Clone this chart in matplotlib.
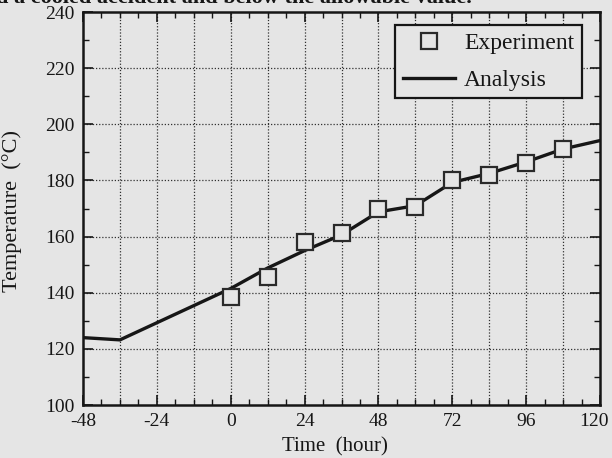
import matplotlib
matplotlib.use("Agg")
import matplotlib.pyplot as plt
import matplotlib.transforms as mtransforms
from matplotlib.ticker import MultipleLocator

# Data
exp_time = [0, 12, 24, 36, 48, 60, 72, 84, 96, 108]
exp_temp = [138.5, 145.5, 158.2, 161.4, 170.0, 170.6, 180.2, 182.0, 186.3, 191.2]

ana_time = [-48, -36, 0, 12, 24, 36, 48, 60, 72, 84, 96, 108, 120]
ana_temp = [124.0, 123.2, 141.5, 148.8, 155.0, 160.6, 168.8, 171.0, 179.3, 182.5, 186.6, 191.2, 194.2]

xticks = [-48, -24, 0, 24, 48, 72, 96, 120]
yticks = [100, 120, 140, 160, 180, 200, 220, 240]

bg = "#e5e5e5"
ink = "#161616"
plt.rcParams['font.family'] = ['Liberation Serif', 'DejaVu Serif']

fig = plt.figure(figsize=(6.12, 4.58), dpi=100, facecolor=bg)
ax = fig.add_axes([83/612, 53/458, 517/612, 393/458], facecolor=bg)

ax.plot(ana_time, ana_temp, color=ink, lw=2.4, label="Analysis", zorder=3)
ax.plot(exp_time, exp_temp, linestyle="none", marker="s", markersize=11,
        markerfacecolor=bg, markeredgecolor="#2a2a2a", markeredgewidth=1.6,
        label="Experiment", zorder=4)

ax.set_xlim(-48, 120)
ax.set_ylim(100, 240)
ax.set_xticks(xticks)
ax.set_xticklabels([str(t) for t in xticks])
ax.set_yticks(yticks)
ax.xaxis.set_minor_locator(MultipleLocator(6))
ax.yaxis.set_minor_locator(MultipleLocator(10))

# grid every 12 h and 20 degC
for gx in range(-36, 120, 12):
    ax.axvline(gx, color="#303030", lw=0.9, ls=(0, (1, 1.5)), zorder=1)
for gy in range(120, 240, 20):
    ax.axhline(gy, color="#303030", lw=0.9, ls=(0, (1, 1.5)), zorder=1)

ax.tick_params(which="both", direction="in", top=True, right=True, color=ink)
ax.tick_params(which="major", length=7, width=1.2, labelsize=14, labelcolor=ink, pad=6)
ax.tick_params(which="minor", length=4, width=1.0)
for s in ax.spines.values():
    s.set_linewidth(1.8)
    s.set_color(ink)

# nudge the last x tick label so it stays inside the figure
fig.canvas.draw()
last = ax.get_xticklabels()[-1]
last.set_transform(last.get_transform() +
                   mtransforms.ScaledTranslation(-6/100, 0, fig.dpi_scale_trans))

ax.set_xlabel("Time  (hour)", fontsize=15, color=ink, va="top")
ax.xaxis.set_label_coords(0.487, -0.083)
ax.set_ylabel("Temperature  (°C)", fontsize=16, color=ink, va="center")
ax.yaxis.set_label_coords(-0.138, 0.494)

handles, labels = ax.get_legend_handles_labels()
leg = ax.legend(handles[::-1], labels[::-1], loc="upper right",
                bbox_to_anchor=(0.965, 0.967), borderaxespad=0,
                fontsize=17, frameon=True,
                fancybox=False, edgecolor=ink, facecolor=bg, framealpha=1,
                handlelength=2.2, handletextpad=0.4, borderpad=0.32,
                labelspacing=0.65)
leg.get_frame().set_linewidth(1.6)
for t in leg.get_texts():
    t.set_color(ink)

fig.text(-4/612, 1.0 + 2/458, "d a cooled accident and below the allowable value.",
         ha="left", va="center", fontsize=16, color=ink, fontweight="bold")

fig.savefig("out.png", dpi=100, facecolor=bg)
